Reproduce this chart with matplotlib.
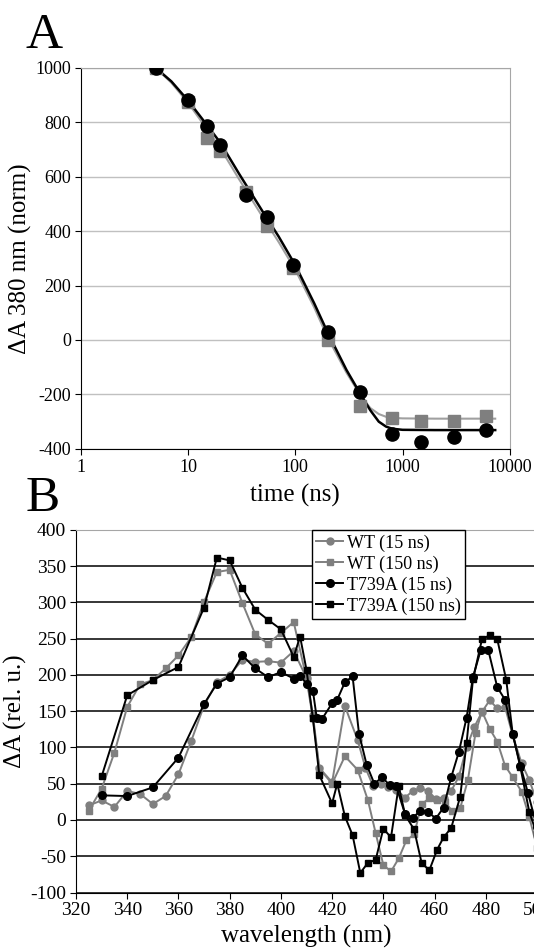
import matplotlib
matplotlib.use("Agg")
import matplotlib.pyplot as plt
from matplotlib.ticker import NullLocator

plt.rcParams["font.family"] = ["Liberation Serif", "DejaVu Serif"]
plt.rcParams["axes.unicode_minus"] = False

GRAY = "#7f7f7f"

# ---- panel A: 380 nm kinetics ----
time_ns = [5, 10, 15, 20, 35, 55, 95, 200, 400, 800, 1500, 3000, 6000]
t739a_380 = [1000, 882, 786, 717, 533, 453, 275, 29, -192, -345, -375, -355, -331]
wt_380 = [1000, 874, 742, 696, 545, 417, 263, 0, -242, -287, -299, -299, -280]

fit_t = [5, 7, 10, 15, 20, 30, 50, 70, 100, 150, 200, 300, 400, 500, 600, 700, 800, 1000, 2000, 7300]
fit_t739a = [1000, 950, 880, 790, 725, 610, 470, 380, 275, 135, 28, -110, -195, -258, -300, -318, -326, -330, -331, -331]
fit_wt = [1000, 945, 872, 775, 705, 590, 450, 360, 258, 120, 10, -120, -200, -250, -272, -282, -286, -288, -289, -289]

a_xticks = [1, 10, 100, 1000, 10000]
a_xlabels = ["1", "10", "100", "1000", "10000"]
a_yticks = list(range(-400, 1001, 200))

# ---- panel B: difference spectra ----
wt15_x = [325, 330, 335, 340, 345, 350, 355, 360, 365, 370, 375, 380, 385, 390, 395, 400, 405, 410,
          412.5, 415, 420, 425, 430, 433, 436, 439, 442, 445, 448.5, 451.5, 454.5, 457.5, 460.5, 463.5,
          466.5, 469.5, 472.5, 475.5, 478.5, 481.5, 484.5, 487.5, 490.5, 494, 497, 500]
wt15_y = [20, 27, 18, 40, 36, 22, 33, 63, 109, 158, 190, 200, 221, 218, 219, 217, 233, 196,
          145, 72, 52, 157, 110, 72, 47, 50, 45, 42, 31, 40, 44, 40, 29, 31,
          40, 60, 100, 128, 149, 165, 154, 156, 117, 78, 55, 25]

wt150_x = [325, 330, 335, 340, 345, 350, 355, 360, 365, 370, 375, 380, 385, 390, 395, 400, 405, 410,
           412.5, 415, 420, 425, 430, 434, 437, 440, 443, 446, 449, 452, 455, 458, 461, 464,
           467, 470, 473, 476, 478.5, 481.5, 484.5, 487.5, 490.5, 494, 497, 500]
wt150_y = [13, 43, 93, 156, 187, 193, 209, 227, 252, 301, 342, 345, 299, 256, 243, 258, 273, 195,
           140, 71, 50, 88, 69, 27, -18, -62, -71, -53, -28, -20, 22, 30, 28, 25,
           12, 16, 55, 120, 150, 126, 108, 75, 59, 39, 4, -38]

t15_x = [330, 340, 350, 360, 370, 375, 380, 385, 390, 395, 400, 405, 407.5, 410, 412.5, 414, 416,
         420, 422, 425, 428, 430.5, 433.5, 436.5, 439.5, 442.5, 445, 448.5, 451.5, 454.5, 457.5,
         460.5, 463.5, 466.5, 469.5, 472.5, 475, 478, 481, 484.5, 487.5, 490.5, 493.5, 496.5, 500]
t15_y = [34, 33, 45, 86, 160, 188, 197, 227, 209, 197, 204, 195, 199, 188, 178, 141, 139,
         161, 166, 190, 198, 119, 76, 50, 59, 48, 47, 8, 3, 13, 11,
         2, 17, 59, 94, 141, 197, 234, 234, 183, 166, 119, 75, 37, -10]

t150_x = [330, 340, 350, 360, 370, 375, 380, 385, 390, 395, 400, 405, 407.5, 410, 412.5, 415, 420,
          422, 425, 428, 431, 434, 437, 440, 443, 446, 448.5, 452, 455, 458, 461, 463.5, 466.5,
          470, 472.5, 475, 478.5, 481.5, 484.5, 488, 490.5, 493.5, 497, 500]
t150_y = [60, 172, 193, 211, 293, 362, 358, 320, 290, 276, 263, 225, 253, 207, 140, 62, 23,
          50, 5, -21, -73, -59, -55, -12, -24, 47, 7, -13, -60, -69, -41, -24, -11,
          32, 106, 194, 249, 255, 249, 193, 119, 73, 11, -20]

b_xticks = list(range(320, 501, 20))
b_yticks = list(range(-100, 401, 50))

fig = plt.figure(figsize=(5.34, 9.52), dpi=100)

# panel A
ax1 = fig.add_axes([0.1511, 0.5285, 0.8037, 0.4003])
ax1.set_xscale("log")
ax1.plot(fit_t, fit_wt, color="#a0a0a0", lw=1.5, zorder=2)
ax1.plot(fit_t, fit_t739a, color="black", lw=1.8, zorder=3)
ax1.plot(time_ns, wt_380, ls="none", marker="s", ms=8, color=GRAY, zorder=4)
ax1.plot(time_ns, t739a_380, ls="none", marker="o", ms=9.5, color="black", zorder=5)
ax1.set_xlim(1, 10000)
ax1.set_ylim(-400, 1000)
ax1.set_xticks(a_xticks)
ax1.set_xticklabels(a_xlabels)
ax1.xaxis.set_minor_locator(NullLocator())
ax1.set_yticks(a_yticks)
ax1.yaxis.grid(True, color="#c0c0c0", lw=1.0)
ax1.set_axisbelow(True)
for s in ("top", "right"):
    ax1.spines[s].set_color("#a6a6a6")
for s in ("left", "bottom"):
    ax1.spines[s].set_color("black")
ax1.tick_params(direction="out", length=4, labelsize=13, pad=3)
ax1.set_xlabel("time (ns)", fontsize=18, labelpad=6)
ax1.set_ylabel("\u0394A 380 nm (norm)", fontsize=18, labelpad=2)

# panel B
ax2 = fig.add_axes([76 / 534, 0.0625, 461 / 534, 0.3808])
ax2.plot(wt15_x, wt15_y, color=GRAY, lw=1.4, marker="o", ms=5, label="WT (15 ns)")
ax2.plot(wt150_x, wt150_y, color=GRAY, lw=1.4, marker="s", ms=5, label="WT (150 ns)")
ax2.plot(t15_x, t15_y, color="black", lw=1.4, marker="o", ms=5.5, label="T739A (15 ns)")
ax2.plot(t150_x, t150_y, color="black", lw=1.4, marker="s", ms=5, label="T739A (150 ns)")
ax2.set_xlim(320, 500)
ax2.set_ylim(-100, 400)
ax2.set_xticks(b_xticks)
ax2.set_yticks(b_yticks)
ax2.yaxis.grid(True, color="black", lw=1.1)
ax2.set_axisbelow(True)
ax2.spines["top"].set_color("#a6a6a6")
ax2.spines["right"].set_visible(False)
ax2.tick_params(direction="out", length=4, labelsize=14, pad=3)
ax2.set_xlabel("wavelength (nm)", fontsize=18, labelpad=4)
ax2.set_ylabel("\u0394A (rel. u.)", fontsize=18, labelpad=2)
leg = ax2.legend(loc="upper left", bbox_to_anchor=(0.511, 1.0), borderaxespad=0,
                 fontsize=13, numpoints=1, handlelength=1.5, handletextpad=0.2,
                 labelspacing=0.2, borderpad=0.25, fancybox=False, framealpha=1)
leg.get_frame().set_edgecolor("black")
leg.get_frame().set_linewidth(1.0)

fig.text(0.047, 0.950, "A", fontsize=37)
fig.text(0.047, 0.463, "B", fontsize=37)

fig.savefig("out.png", dpi=100)
